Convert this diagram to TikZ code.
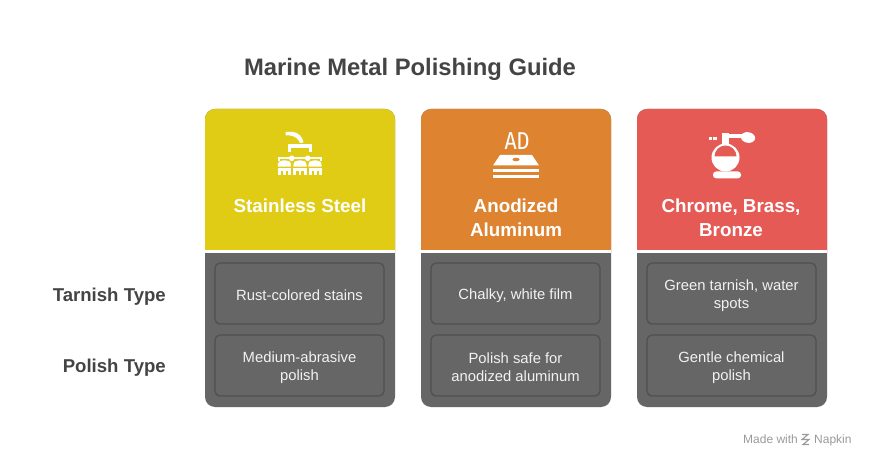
\documentclass[tikz,border=0pt]{standalone}
\usepackage{fontspec}
\setmainfont{Liberation Sans}
\newfontfamily\monof{DejaVu Sans Mono}
\definecolor{ycol}{HTML}{E0CB15}
\definecolor{ocol}{HTML}{DE8431}
\definecolor{rcol}{HTML}{E55A55}
\definecolor{bodyg}{HTML}{666666}
\definecolor{cellb}{HTML}{505050}
\definecolor{celltext}{HTML}{F2F2F2}
\definecolor{titlec}{HTML}{444444}
\definecolor{wmark}{HTML}{9A9A9A}
\begin{document}
\begin{tikzpicture}[x=1pt,y=-1pt,
  hdr/.style={font=\bfseries\fontsize{18.8}{24}\selectfont, text=white, align=center, inner sep=0pt},
  cellbox/.style={draw=cellb, line width=1.3pt, fill=bodyg, rounded corners=5pt, minimum width=169pt, minimum height=61pt, text=celltext, align=center, font=\fontsize{14.8}{18}\selectfont, inner sep=0pt},
  celltxt/.style={text=celltext, align=center, font=\fontsize{14.8}{18}\selectfont, inner sep=0pt},
  rowlab/.style={font=\bfseries\fontsize{18.6}{20}\selectfont, text=titlec, anchor=east, inner sep=0pt},
  wtext/.style={font=\fontsize{12}{14}\selectfont, text=wmark, anchor=base west, inner sep=0pt},
]
\useasboundingbox (0,0) rectangle (876,468);
\fill[white] (0,0) rectangle (876,468);

% title
\node[font=\bfseries\fontsize{23.8}{26}\selectfont, text=titlec, inner sep=0pt] (title) at (410,69) {Marine Metal Polishing Guide};

% columns
\foreach \x/\c in {205/ycol,421/ocol,637/rcol}{
  \fill[bodyg, rounded corners=10pt] (\x,109) rectangle (\x+190,407);
  \fill[\c, rounded corners=10pt] (\x,109) rectangle (\x+190,262);
  \fill[bodyg] (\x,250) rectangle (\x+190,264);
  \fill[white] (\x,250) rectangle (\x+190,252.5);
}

% headers
\node[hdr] (h1) at (300,205.5) {Stainless Steel};
\node[hdr] (h2) at (516,217.5) {Anodized\\Aluminum};
\node[hdr] (h3) at (731,217.5) {Chrome, Brass,\\Bronze};

% row labels
\node[rowlab] (r1) at (166,297) {Tarnish Type};
\node[rowlab] (r2) at (166,368) {Polish Type};

% cells
\node[cellbox] (c11) at (299.5,293.5) {};
\node[cellbox] (c12) at (299.5,365.5) {};
\node[cellbox] (c21) at (515.5,293.5) {};
\node[cellbox] (c22) at (515.5,365.5) {};
\node[cellbox] (c31) at (731.5,293.5) {};
\node[cellbox] (c32) at (731.5,365.5) {};
\node[celltxt] (t11) at ([yshift=-1.8pt]c11.center) {Rust-colored stains};
\node[celltxt] (t12) at ([yshift=-1.8pt]c12.center) {Medium-abrasive\\polish};
\node[celltxt] (t21) at ([yshift=-1.8pt]c21.center) {Chalky, white film};
\node[celltxt] (t22) at ([yshift=-1.8pt]c22.center) {Polish safe for\\anodized aluminum};
\node[celltxt] (t31) at ([yshift=-1.8pt]c31.center) {Green tarnish, water\\spots};
\node[celltxt] (t32) at ([yshift=-1.8pt]c32.center) {Gentle chemical\\polish};

% icon 1: stainless steel
\fill[white] (285.7,131.8) -- (292,131.8) .. controls (298,132.2) and (302.5,136.5) .. (303.5,142.5) -- (300,143) .. controls (298.5,139) and (295,136) .. (290,135.5) -- (285.7,135.5) -- cycle;
\fill[white] (287.7,144.5) rectangle (311.7,147.7);
\fill[white] (287.7,144.5) rectangle (290.5,152.3);
\fill[white] (308.9,144.5) rectangle (311.7,152.3);
\fill[white] (277.7,157.3) rectangle (321.7,159.5);
\fill[white] (277.7,157.3) rectangle (279.5,161);
\fill[white] (319.9,157.3) rectangle (321.7,161);
\fill[white] (291.7,158.3) circle[radius=2.8];
\fill[white] (307.7,158.3) circle[radius=2.8];
\foreach \a/\b in {277.7/291.2,293.3/306.7,308.3/321.7}{
  \fill[white] (\a,166.7) .. controls (\a,161.5) and (\a+2,160.5) .. (\a+5,160.5) -- (\b-5,160.5) .. controls (\b-2,160.5) and (\b,161.5) .. (\b,166.7) -- cycle;
}
\foreach \a/\b in {278.3/290.7,293.3/306.7,309.3/321.7}{
  \fill[white] (\a,168.3) rectangle (\b,171);
  \fill[white] (\a,171) rectangle (\a+2.5,175);
  \fill[white] ({(\a+\b)/2-1.2},171) rectangle ({(\a+\b)/2+1.2},175);
  \fill[white] (\b-2.5,171) rectangle (\b,175);
}

% icon 2: anodized aluminum
\node[font=\monof\fontsize{21}{21}\selectfont, text=white, inner sep=0pt, yscale=1.1] (ad) at (517,141) {AD};
\fill[white] (500,155) -- (532,155) -- (539,165.5) -- (493,165.5) -- cycle;
\fill[ocol] (516,159.5) ellipse[x radius=3.5, y radius=1.8];
\fill[white] (493,168.8) rectangle (539,172);
\fill[white] (493,175) rectangle (539,178.3);

% icon 3: perfume bottle
\fill[white] (722,133) rectangle (729,144);
\fill[white] (725,134.5) rectangle (744,138);
\fill[white, rotate around={-10:(748,137.5)}] (748,137.5) ellipse[x radius=7.2, y radius=5.3];
\fill[white] (708.5,137.5) rectangle (711.5,140);
\fill[white] (713,137.5) rectangle (716.5,140);
\fill[white] (725.5,157.5) circle[radius=14];
\fill[rcol] (714.5,156.5) arc[start angle=180, end angle=360, radius=11] -- cycle;
\fill[white, rounded corners=3pt] (713,171.5) rectangle (741,178.3);

% watermark
\node[wtext] (mw) at (743,443.5) {Made with};
\draw[wmark, line width=1.1pt] (802,434.5) -- (808,434.5) -- (802,439.5) -- (809,439.5) -- (803,444.5) -- (809,444.5);
\node[wtext] (np) at (814,443.5) {Napkin};
\end{tikzpicture}
\end{document}
